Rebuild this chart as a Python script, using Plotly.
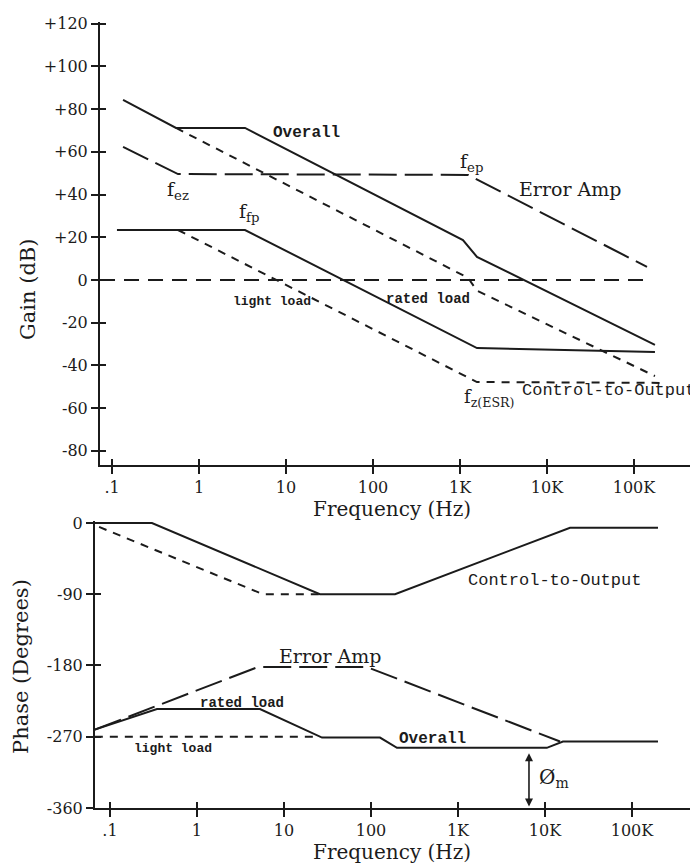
import math
import plotly.graph_objects as go

# The page body has an 8px margin, so the figure is sized to the visible area
OFF = 8
W, H = 698 - OFF, 865 - OFF

# ---------------- data : gain plot (frequency in Hz, gain in dB) ----------------
tick_freqs = [0.1, 1, 10, 100, 1e3, 1e4, 1e5]
tick_freq_labels = [".1", "1", "10", "100", "1K", "10K", "100K"]
gain_ticks = [-80, -60, -40, -20, 0, 20, 40, 60, 80, 100, 120]
gain_tick_labels = ["-80", "-60", "-40", "-20", "0", "+20", "+40", "+60", "+80", "+100", "+120"]
phase_ticks = [-360, -270, -180, -90, 0]
phase_tick_labels = ["-360", "-270", "-180", "-90", "0"]

gain_overall_f = [0.134, 0.544, 3.38, 1081, 1567, 174000]
gain_overall_db = [84.3, 71.2, 71.2, 18.7, 10.8, -30.4]
gain_overall_light_f = [0.544, 1236, 1567, 174000]
gain_overall_light_db = [71.2, 1.0, -5.0, -45.0]
gain_erramp_f = [0.134, 0.574, 1236, 141000]
gain_erramp_db = [62.3, 49.6, 49.2, 6.1]
gain_ctrl_rated_f = [0.114, 3.38, 1567, 174000]
gain_ctrl_rated_db = [23.4, 23.4, -31.9, -33.7]
gain_ctrl_light_f = [0.574, 1567, 199000]
gain_ctrl_light_db = [23.4, -47.8, -48.2]
gain_ref_f = [0.0728, 141000]
gain_ref_db = [0, 0]

# ---------------- data : phase plot (frequency in Hz, phase in degrees) ----------------
phase_ctrl_rated_f = [0.067, 0.304, 25.9, 189, 19400, 199000]
phase_ctrl_rated_deg = [0, 0, -90, -90, -6, -6]
phase_ctrl_light_f = [0.075, 5.74, 25.9]
phase_ctrl_light_deg = [-5, -90, -90]
phase_erramp_f = [0.067, 5.0, 90, 14900]
phase_erramp_deg = [-261, -182, -182, -276]
phase_overall_f = [0.067, 0.347, 5.3, 27.4, 127, 199, 10500, 16100, 199000]
phase_overall_deg = [-261, -235, -235, -271, -271, -284, -284, -276, -276]
phase_overall_light_f = [0.067, 25.9]
phase_overall_light_deg = [-270, -270]
phase_margin_f = 6550
phase_margin_deg = [-291, -360]

INK = "#1b1b1b"
SOLID = dict(color=INK, width=2)
LONG = dict(color=INK, width=2, dash="28px,8px")
SHORT = dict(color=INK, width=2, dash="8px,7px")
REF = dict(color=INK, width=2, dash="15px,9px")

fig = go.Figure()

def add(x, y, line, xa, ya):
    fig.add_trace(go.Scatter(x=x, y=y, mode="lines", line=line, xaxis=xa, yaxis=ya,
                             showlegend=False, hoverinfo="skip"))

# gain
add(gain_overall_f, gain_overall_db, SOLID, "x", "y")
add(gain_overall_light_f, gain_overall_light_db, SHORT, "x", "y")
add(gain_erramp_f, gain_erramp_db, LONG, "x", "y")
add(gain_ctrl_rated_f, gain_ctrl_rated_db, SOLID, "x", "y")
add(gain_ctrl_light_f, gain_ctrl_light_db, SHORT, "x", "y")
add(gain_ref_f, gain_ref_db, REF, "x3", "y3")
# phase
add(phase_ctrl_rated_f, phase_ctrl_rated_deg, SOLID, "x2", "y2")
add(phase_ctrl_light_f, phase_ctrl_light_deg, SHORT, "x2", "y2")
add(phase_erramp_f, phase_erramp_deg, LONG, "x2", "y2")
add(phase_overall_f, phase_overall_deg, SOLID, "x2", "y2")
add(phase_overall_light_f, phase_overall_light_deg, SHORT, "x4", "y4")

TICKFONT = dict(family="DejaVu Serif", size=16, color=INK)

def px_x(p):
    return (p - OFF) / W

def px_y(p):
    return 1 - (p - OFF) / H

top_xdom = [px_x(100), px_x(695)]
top_ydom = [px_y(465), px_y(22)]
bot_xdom = [px_x(95), 1.0]
bot_ydom = [px_y(808), px_y(521)]
top_xrange = [-1.138, 5.701]
top_yrange = [-86.65, 120.8]
bot_xrange = [-1.172, 5.759]
bot_yrange = [-360, 2.5]

def xax(dom, rng, anchor, outside=True, overlay=None):
    d = dict(type="log", domain=dom, range=rng, anchor=anchor, tickmode="array",
             tickvals=tick_freqs, showgrid=False, zeroline=False, automargin=False,
             tickwidth=2, tickcolor=INK)
    if outside:
        d.update(ticktext=tick_freq_labels, ticks="outside", ticklen=7, showline=True,
                 linecolor=INK, linewidth=2, tickfont=TICKFONT)
    else:
        d.update(ticks="inside", ticklen=6, showline=False, showticklabels=False,
                 overlaying=overlay)
    return d

def yax(dom, rng, anchor, vals, labels, outside=True, overlay=None):
    d = dict(domain=dom, range=rng, anchor=anchor, tickmode="array", tickvals=vals,
             showgrid=False, zeroline=False, automargin=False, tickwidth=2, tickcolor=INK)
    if outside:
        d.update(ticktext=labels, ticks="outside", ticklen=7, showline=True,
                 linecolor=INK, linewidth=2, tickfont=TICKFONT)
    else:
        d.update(ticks="inside", ticklen=6, showline=False, showticklabels=False,
                 overlaying=overlay)
    return d

fig.update_layout(
    width=W, height=H,
    margin=dict(l=0, r=0, t=0, b=0),
    paper_bgcolor="white", plot_bgcolor="rgba(0,0,0,0)",
    xaxis=xax(top_xdom, top_xrange, "y"),
    yaxis=yax(top_ydom, top_yrange, "x", gain_ticks, gain_tick_labels),
    xaxis3=xax(top_xdom, top_xrange, "y3", outside=False, overlay="x"),
    yaxis3=yax(top_ydom, top_yrange, "x3", gain_ticks, gain_tick_labels, outside=False, overlay="y"),
    xaxis2=xax(bot_xdom, bot_xrange, "y2"),
    yaxis2=yax(bot_ydom, bot_yrange, "x2", phase_ticks, phase_tick_labels),
    xaxis4=xax(bot_xdom, bot_xrange, "y4", outside=False, overlay="x2"),
    yaxis4=yax(bot_ydom, bot_yrange, "x4", phase_ticks, phase_tick_labels, outside=False, overlay="y2"),
)

SERIF = "DejaVu Serif"
MONO = "Liberation Mono"

def label(text, cx, cy, size=17, family=MONO, bold=False, angle=0):
    if bold:
        text = "<b>" + text + "</b>"
    fig.add_annotation(x=px_x(cx), y=px_y(cy), xref="paper", yref="paper", text=text,
                       showarrow=False, xanchor="center", yanchor="middle", textangle=angle,
                       font=dict(family=family, size=size, color=INK))

# axis titles
label("Gain (dB)", 28, 290, size=21, family=SERIF, angle=-90)
label("Phase (Degrees)", 21, 667, size=21, family=SERIF, angle=-90)
label("Frequency (Hz)", 392, 509, size=20, family=SERIF)
label("Frequency (Hz)", 392, 852, size=20, family=SERIF)

# gain plot labels
label("Overall", 306, 133, size=16, bold=True)
label("f<sub>ep</sub>", 471, 162, size=19, family=SERIF)
label("Error Amp", 570, 189, size=19, family=SERIF)
label("f<sub>ez</sub>", 178, 190, size=19, family=SERIF)
label("f<sub>fp</sub>", 249, 212, size=19, family=SERIF)
label("light load", 272, 302, size=13, bold=True)
label("rated load", 428, 299, size=14, bold=True)
label("f<sub>z(ESR)</sub>", 489, 398, size=18, family=SERIF)
label("Control-to-Output", 608, 390, size=17)

# phase plot labels
label("Control-to-Output", 554, 580, size=17)
label("Error Amp", 330, 656, size=19, family=SERIF)
label("rated load", 242, 703, size=14, bold=True)
label("light load", 173, 748, size=13, bold=True)
label("Overall", 432, 739, size=16, bold=True)
label("\u00d8<sub>m</sub>", 554, 778, size=20, family=SERIF)

# phase margin arrow (double headed)
lx = math.log10(phase_margin_f)
fig.add_annotation(x=lx, y=phase_margin_deg[0], ax=lx, ay=phase_margin_deg[1],
                   xref="x2", yref="y2", axref="x2", ayref="y2", text="",
                   showarrow=True, arrowhead=2, arrowside="end+start", arrowsize=1,
                   arrowwidth=1.6, arrowcolor=INK)

fig.write_html("out.html")
